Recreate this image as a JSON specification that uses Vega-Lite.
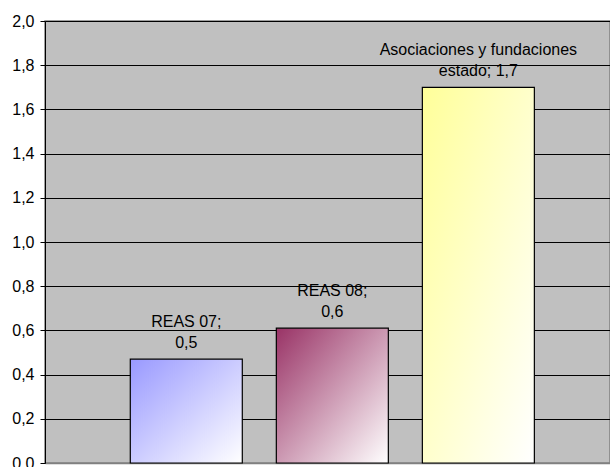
{
  "$schema": "https://vega.github.io/schema/vega-lite/v6.json",
  "autosize": "none",
  "width": 565,
  "height": 442,
  "padding": {"left": 45, "top": 21, "right": 0, "bottom": 4},
  "background": "white",
  "config": {
    "locale": {"number": {"decimal": ",", "thousands": ".", "grouping": [3], "currency": ["", " €"]}},
    "view": {"fill": "#C0C0C0", "stroke": "#808080", "strokeWidth": 1.5},
    "font": "Liberation Sans"
  },
  "data": {
    "values": [
      {"categoria": "REAS 07", "valor": 0.47, "etiqueta": "REAS 07;\n0,5"},
      {"categoria": "REAS 08", "valor": 0.61, "etiqueta": "REAS 08;\n0,6"},
      {"categoria": "Asociaciones y fundaciones estado", "valor": 1.7, "etiqueta": "Asociaciones y fundaciones\nestado; 1,7"}
    ]
  },
  "encoding": {
    "x": {
      "field": "categoria", "type": "nominal", "sort": null,
      "scale": {"paddingInner": 0.233, "paddingOuter": 0.551, "align": 0.53},
      "axis": {"labels": false, "ticks": false, "title": null, "domainColor": "#808080", "domainWidth": 1.5}
    },
    "y": {
      "field": "valor", "type": "quantitative",
      "scale": {"domain": [0, 2], "nice": false},
      "axis": {
        "values": [0, 0.2, 0.4, 0.6, 0.8, 1.0, 1.2, 1.4, 1.6, 1.8, 2.0],
        "format": ".1f", "title": null,
        "grid": true, "gridColor": "black", "gridOpacity": 1, "gridWidth": 1,
        "domainColor": "black", "domainWidth": 1,
        "tickColor": "black", "tickSize": 5, "labelPadding": 6,
        "labelFontSize": 16, "labelColor": "black", "labelFont": "Liberation Sans"
      }
    }
  },
  "layer": [
    {
      "transform": [{"filter": "datum.categoria === 'REAS 07'"}],
      "mark": {"type": "bar", "stroke": "black", "strokeWidth": 1.2,
        "fill": {"gradient": "linear", "x1": 0, "y1": 0, "x2": 1, "y2": 1,
          "stops": [{"offset": 0, "color": "#9999FF"}, {"offset": 1, "color": "#FFFFFF"}]}}
    },
    {
      "transform": [{"filter": "datum.categoria === 'REAS 08'"}],
      "mark": {"type": "bar", "stroke": "black", "strokeWidth": 1.2,
        "fill": {"gradient": "linear", "x1": 0, "y1": 0, "x2": 1, "y2": 1,
          "stops": [{"offset": 0, "color": "#993366"}, {"offset": 1, "color": "#FFFFFF"}]}}
    },
    {
      "transform": [{"filter": "datum.categoria === 'Asociaciones y fundaciones estado'"}],
      "mark": {"type": "bar", "stroke": "black", "strokeWidth": 1.2,
        "fill": {"gradient": "linear", "x1": 0, "y1": 0, "x2": 1, "y2": 1,
          "stops": [{"offset": 0, "color": "#FFFF99"}, {"offset": 1, "color": "#FFFFFF"}]}}
    },
    {
      "mark": {"type": "text", "baseline": "bottom", "align": "center", "dy": -29,
        "lineBreak": "\n", "lineHeight": 21, "fontSize": 16, "color": "black", "font": "Liberation Sans"},
      "encoding": {"text": {"field": "etiqueta", "type": "nominal"}}
    }
  ]
}
